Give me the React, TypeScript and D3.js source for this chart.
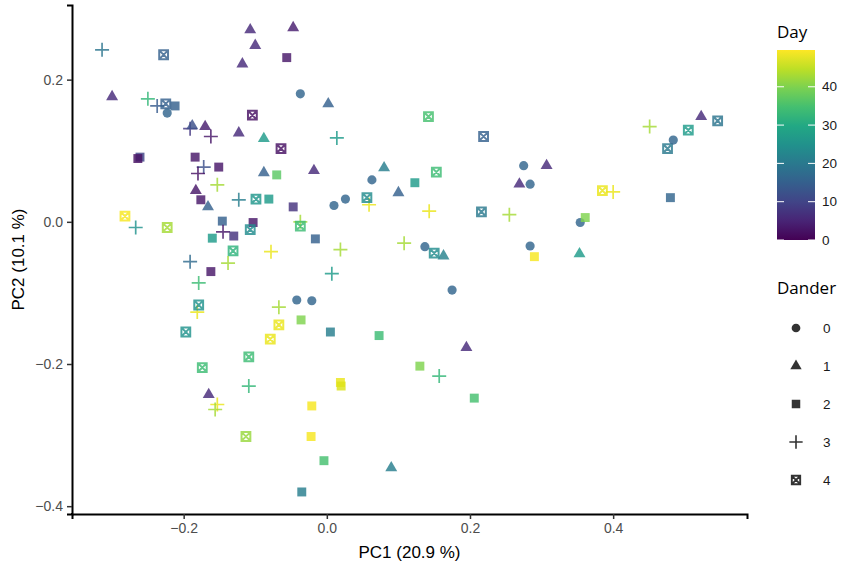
import { useRef, useEffect } from 'react';
import * as d3 from 'd3';

// PCA scores
const pc1: number[] = [
  -0.314, -0.228, -0.107, -0.047, -0.100, -0.056, -0.118, -0.300, -0.250, -0.237,
  -0.225, -0.212, -0.223, -0.037, 0.002, -0.104, -0.191, -0.188, -0.170, -0.162,
  -0.123, -0.088, -0.064, -0.261, -0.264, -0.184, -0.172, -0.151, -0.180, -0.153,
  -0.183, -0.176, -0.166, -0.088, -0.070, -0.123, -0.099, -0.081, -0.047, -0.282,
  -0.267, -0.223, -0.146, -0.103, -0.145, -0.130, -0.160, -0.107, -0.037, -0.037,
  -0.016, -0.131, -0.078, -0.191, -0.138, -0.162, -0.179, -0.042, -0.021, -0.067,
  -0.181, -0.179, -0.036, -0.067, -0.197, -0.079, -0.109, 0.005, 0.007, 0.073,
  -0.174, 0.195, 0.130, 0.157, -0.165, -0.153, -0.156, -0.109, 0.019, 0.020,
  0.206, -0.021, -0.113, -0.022, -0.004, 0.090, -0.035, 0.014, -0.018, 0.080,
  0.063, 0.153, 0.123, 0.100, 0.026, 0.010, 0.059, 0.056, 0.143, 0.216,
  0.019, 0.108, 0.137, 0.150, 0.163, 0.175, 0.142, 0.219, 0.275, 0.307,
  0.269, 0.284, 0.255, 0.284, 0.290, 0.354, 0.361, 0.353, 0.385, 0.400,
  0.480, 0.451, 0.476, 0.484, 0.505, 0.523, 0.546,
];
const pc2: number[] = [
  0.242, 0.235, 0.270, 0.273, 0.248, 0.231, 0.222, 0.176, 0.173, 0.163,
  0.166, 0.163, 0.153, 0.180, 0.166, 0.150, 0.131, 0.135, 0.134, 0.120,
  0.125, 0.117, 0.103, 0.091, 0.089, 0.091, 0.077, 0.077, 0.068, 0.052,
  0.044, 0.031, 0.021, 0.069, 0.066, 0.031, 0.032, 0.032, 0.021, 0.008,
  -0.008, -0.008, 0.001, -0.001, -0.014, -0.020, -0.023, -0.011, 0.000, -0.006,
  -0.024, -0.041, -0.042, -0.056, -0.058, -0.070, -0.086, -0.110, -0.111, -0.120,
  -0.127, -0.117, -0.138, -0.145, -0.155, -0.165, -0.190, -0.155, -0.073, -0.160,
  -0.205, -0.177, -0.203, -0.217, -0.243, -0.257, -0.264, -0.231, -0.226, -0.231,
  -0.248, -0.259, -0.302, -0.302, -0.336, -0.346, -0.380, 0.118, 0.072, 0.076,
  0.059, 0.070, 0.055, 0.041, 0.032, 0.023, 0.024, 0.034, 0.015, 0.014,
  -0.039, -0.030, -0.035, -0.044, -0.048, -0.096, 0.148, 0.120, 0.079, 0.079,
  0.053, 0.053, 0.010, -0.034, -0.049, -0.001, 0.006, -0.045, 0.044, 0.042,
  0.034, 0.134, 0.103, 0.115, 0.129, 0.148, 0.142,
];
const day: number[] = [
  19, 15, 6, 4, 6, 3, 6, 6, 33, 14,
  15, 15, 16, 16, 15, 2, 8, 12, 4, 3,
  6, 27, 2, 10, 2, 3, 12, 3, 2, 43,
  3, 3, 15, 15, 37, 21, 26, 27, 7, 49,
  25, 43, 15, 3, 3, 7, 27, 24, 43, 34,
  15, 32, 48, 17, 43, 3, 34, 16, 16, 43,
  48, 25, 40, 48, 25, 48, 34, 21, 27, 34,
  34, 6, 40, 33, 6, 48, 43, 33, 48, 47,
  35, 49, 42, 49, 35, 21, 21, 27, 6, 21,
  16, 34, 27, 15, 16, 16, 48, 24, 48, 20,
  43, 43, 16, 24, 22, 16, 35, 15, 16, 6,
  6, 16, 43, 16, 49, 16, 40, 27, 48, 48,
  16, 43, 20, 16, 27, 6, 19,
];
// 0 circle, 1 triangle, 2 square, 3 plus, 4 square cross
const dander: number[] = [
  3, 4, 1, 1, 1, 2, 1, 1, 3, 3,
  4, 2, 0, 0, 1, 4, 3, 1, 1, 3,
  1, 1, 4, 2, 2, 2, 3, 2, 3, 3,
  1, 2, 1, 1, 2, 3, 4, 2, 2, 4,
  3, 4, 2, 2, 3, 2, 2, 4, 3, 4,
  2, 4, 3, 3, 3, 2, 3, 0, 0, 3,
  3, 4, 2, 4, 4, 4, 4, 2, 3, 2,
  4, 1, 2, 3, 1, 3, 3, 3, 2, 2,
  2, 2, 4, 2, 2, 1, 2, 3, 1, 1,
  0, 4, 2, 1, 0, 0, 3, 4, 3, 4,
  3, 3, 0, 4, 1, 0, 4, 4, 0, 1,
  1, 0, 3, 0, 2, 0, 2, 1, 4, 3,
  2, 3, 4, 0, 4, 1, 4,
];

const danderLevels: string[] = ['0', '1', '2', '3', '4'];
const xTicks: number[] = [-0.2, 0, 0.2, 0.4];
const yTicks: number[] = [-0.4, -0.2, 0, 0.2];
const dayTicks: number[] = [0, 10, 20, 30, 40];

const fmt = (d: number) => d3.format('.1f')(d).replace('-', '\u2212');

export default function App() {
  const chartRef = useRef<SVGSVGElement | null>(null);

  useEffect(() => {
    if (!chartRef.current) return;

    const width = 851;
    const height = 569;
    const left = 72, right = 747, top = 5, bottom = 514;

    const svg = d3.select(chartRef.current)
      .attr('width', width)
      .attr('height', height);
    svg.selectAll('*').remove();

    const x = d3.scaleLinear().domain([-0.356, 0.587]).range([left, right]);
    const y = d3.scaleLinear().domain([-0.411, 0.305]).range([bottom, top]);
    const color = d3.scaleSequential(d3.interpolateViridis).domain([0, 49.6]);

    // marker paths, centred on 0,0
    const markerPath = (shape: number, k = 1): string => {
      if (shape === 0) return d3.symbol(d3.symbolCircle, 66 * k * k)() || '';
      if (shape === 1) return d3.symbol(d3.symbolTriangle, 62 * k * k)() || '';
      if (shape === 2) return d3.symbol(d3.symbolSquare, 80 * k * k)() || '';
      if (shape === 3) {
        const a = 7 * k;
        return `M${-a},0H${a}M0,${-a}V${a}`;
      }
      const s = 4.4 * k;
      return `M${-s},${-s}H${s}V${s}H${-s}ZM${-s},${-s}L${s},${s}M${s},${-s}L${-s},${s}`;
    };
    const filled = (shape: number) => shape <= 2;

    // axes
    const xAxis = svg.append('g')
      .attr('transform', `translate(0,${bottom})`)
      .call(d3.axisBottom(x).tickValues(xTicks).tickFormat((d) => fmt(+d)).tickSizeOuter(0).tickSize(5).tickPadding(4));
    const yAxis = svg.append('g')
      .attr('transform', `translate(${left},0)`)
      .call(d3.axisLeft(y).tickValues(yTicks).tickFormat((d) => fmt(+d)).tickSizeOuter(0).tickSize(5).tickPadding(4));

    [xAxis, yAxis].forEach((g) => {
      g.select('.domain').attr('stroke', '#000').attr('stroke-width', 2);
      g.selectAll('.tick line').attr('stroke', '#333').attr('stroke-width', 1.5);
      g.selectAll('.tick text')
        .attr('fill', '#4d4d4d')
        .attr('font-size', 14)
        .attr('font-family', 'Liberation Sans, Arial, sans-serif');
    });
    // close the corner
    svg.append('line')
      .attr('x1', left - 1).attr('x2', left + 1)
      .attr('y1', bottom).attr('y2', bottom)
      .attr('stroke', '#000').attr('stroke-width', 2);

    // points
    const idx = d3.range(pc1.length);
    svg.append('g')
      .selectAll('path')
      .data(idx)
      .enter()
      .append('path')
      .attr('transform', (i) => `translate(${x(pc1[i])},${y(pc2[i])})`)
      .attr('d', (i) => markerPath(dander[i]))
      .attr('fill', (i) => (filled(dander[i]) ? color(day[i]) : 'none'))
      .attr('stroke', (i) => (filled(dander[i]) ? 'none' : color(day[i])))
      .attr('stroke-width', (i) => (dander[i] === 3 ? 1.7 : 2))
      .attr('opacity', 0.82);

    // axis titles
    svg.append('text')
      .text('PC1 (20.9 %)')
      .attr('x', (left + right) / 2)
      .attr('y', 558)
      .attr('text-anchor', 'middle')
      .attr('font-family', 'Liberation Sans, Arial, sans-serif')
      .attr('font-size', 17)
      .attr('fill', '#000');
    svg.append('text')
      .text('PC2 (10.1 %)')
      .attr('transform', `translate(24,${(top + bottom) / 2}) rotate(-90)`)
      .attr('text-anchor', 'middle')
      .attr('font-family', 'Liberation Sans, Arial, sans-serif')
      .attr('font-size', 17)
      .attr('fill', '#000');

    // Day colour bar
    const barX = 777, barW = 38;
    const barY = d3.scaleLinear().domain([0, 49.6]).range([240, 50]);
    const grad = svg.append('defs').append('linearGradient')
      .attr('id', 'dayGrad')
      .attr('x1', 0).attr('y1', 1).attr('x2', 0).attr('y2', 0);
    d3.range(0, 1.0001, 0.1).forEach((t) => {
      grad.append('stop').attr('offset', t).attr('stop-color', d3.interpolateViridis(t));
    });
    svg.append('text')
      .text('Day')
      .attr('x', barX)
      .attr('y', 38)
      .attr('font-family', 'Open Sans, Noto Sans, sans-serif')
      .attr('font-size', 17)
      .attr('fill', '#000');
    svg.append('rect')
      .attr('x', barX).attr('y', barY(49.6))
      .attr('width', barW).attr('height', barY(0) - barY(49.6))
      .attr('fill', 'url(#dayGrad)');
    const legTicks = svg.append('g');
    dayTicks.forEach((d) => {
      const ty = barY(d);
      legTicks.append('line')
        .attr('x1', barX).attr('x2', barX + 7).attr('y1', ty).attr('y2', ty)
        .attr('stroke', '#fff').attr('stroke-width', 1);
      legTicks.append('line')
        .attr('x1', barX + barW - 7).attr('x2', barX + barW).attr('y1', ty).attr('y2', ty)
        .attr('stroke', '#fff').attr('stroke-width', 1);
      legTicks.append('text')
        .text(String(d))
        .attr('x', barX + barW + 7)
        .attr('y', ty)
        .attr('dy', '0.35em')
        .attr('font-family', 'Liberation Sans, Arial, sans-serif')
        .attr('font-size', 13.5)
        .attr('fill', '#1a1a1a');
    });

    // Dander shape legend
    svg.append('text')
      .text('Dander')
      .attr('x', barX)
      .attr('y', 294)
      .attr('font-family', 'Open Sans, Noto Sans, sans-serif')
      .attr('font-size', 17)
      .attr('fill', '#000');
    const keyY = d3.scalePoint<string>().domain(danderLevels).range([328, 480]);
    const keys = svg.append('g')
      .selectAll('g')
      .data(danderLevels)
      .enter()
      .append('g')
      .attr('transform', (d) => `translate(796,${keyY(d)})`);
    keys.append('path')
      .attr('d', (d) => markerPath(+d, 0.95))
      .attr('fill', (d) => (filled(+d) ? '#333' : 'none'))
      .attr('stroke', (d) => (filled(+d) ? 'none' : '#333'))
      .attr('stroke-width', (d) => (+d === 3 ? 1.6 : 1.9));
    keys.append('text')
      .text((d) => d)
      .attr('x', 27)
      .attr('dy', '0.35em')
      .attr('font-family', 'Liberation Sans, Arial, sans-serif')
      .attr('font-size', 13.5)
      .attr('fill', '#1a1a1a');
  }, []);

  return (
    <div style={{ position: 'absolute', left: 0, top: 0 }}>
      <svg ref={chartRef}></svg>
    </div>
  );
}
